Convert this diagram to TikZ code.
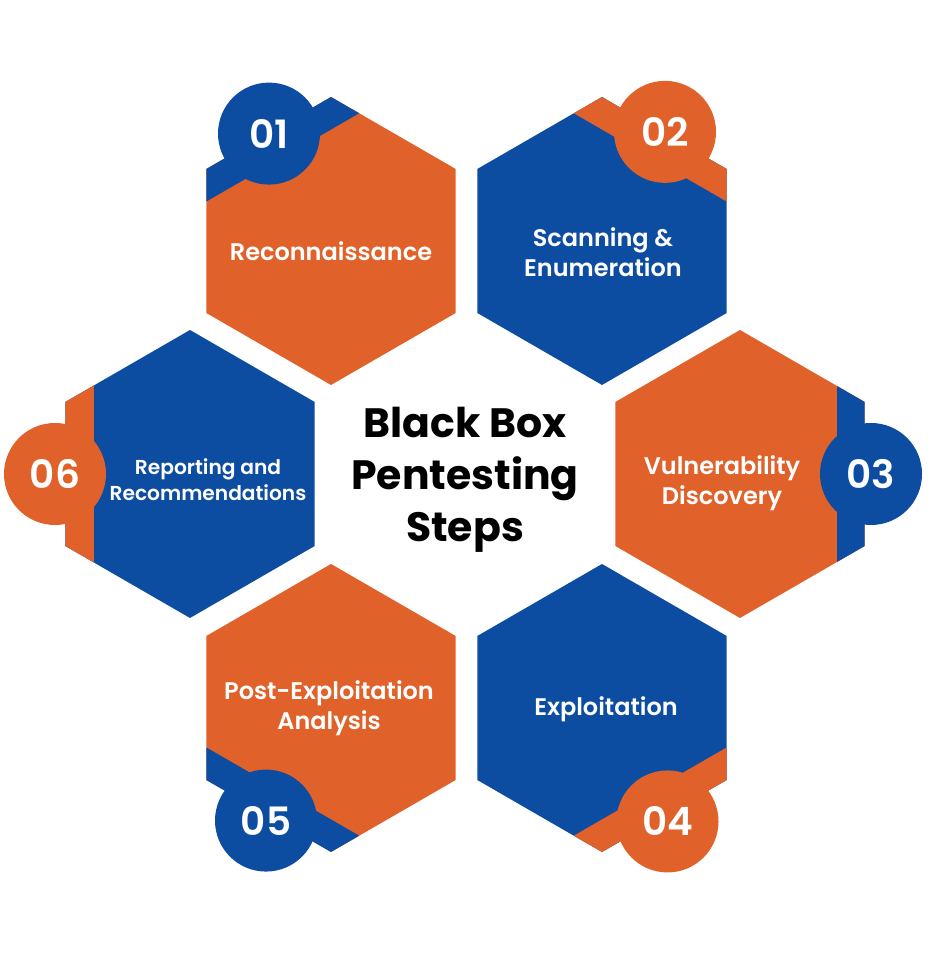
\documentclass[tikz,border=0pt]{standalone}
\usepackage{fontspec}
\setmainfont{Poppins}
\newfontfamily\medfont{Poppins}[UprightFont={* Medium}, BoldFont={* SemiBold}]
\usepackage{tikz}
\usetikzlibrary{calc}

\definecolor{stepblue}{HTML}{0D4DA1}
\definecolor{steporange}{HTML}{E0622A}

\tikzset{
  numdisc/.style={circle, minimum size=51pt, inner sep=0pt, text=white, font=\medfont\bfseries\fontsize{19.5}{20}\selectfont},
  steplabel/.style={text=white, align=center, font=\medfont\bfseries\fontsize{12}{15}\selectfont},
  titletext/.style={align=center, text=black, font=\bfseries\fontsize{20.5}{26}\selectfont},
}

% hexagon with a coloured band on one side and a numbered disc on it
\newcommand{\hexstep}[7]{%
  \begin{scope}[shift={#1}, rotate=#2]
    \fill[#4] (30:144) \foreach \a in {90,150,...,330} {-- (\a:144)} -- cycle;
    \clip (30:144) \foreach \a in {90,150,...,330} {-- (\a:144)} -- cycle;
    \fill[#5] (96.5,-150) rectangle (150,150);
  \end{scope}
  \node[numdisc, fill=#5] (#7) at ($#1+(#2:#3)$) {#6};
}

\begin{document}
\begin{tikzpicture}[x=0.5pt, y=0.5pt]
  \useasboundingbox (0,0) rectangle (928,956);

  \hexstep{(331,715)}{120}{124}{steporange}{stepblue}{01}{n01}
  \hexstep{(602,715)}{60}{126}{stepblue}{steporange}{02}{n02}
  \hexstep{(740,482)}{0}{131}{steporange}{stepblue}{03}{n03}
  \hexstep{(602,248)}{-60}{131}{stepblue}{steporange}{04}{n04}
  \hexstep{(331,248)}{-120}{130}{steporange}{stepblue}{05}{n05}
  \hexstep{(190,482)}{180}{135}{stepblue}{steporange}{06}{n06}

  \node[steplabel] (recon) at (331,705) {Reconnaissance};
  \node[steplabel] (scan) at (603,704) {Scanning \&\\Enumeration};
  \node[steplabel] (vuln) at (722,473) {Vulnerability\\Discovery};
  \node[steplabel] (exploit) at (606,247) {Exploitation};
  \node[steplabel] (post) at (329,248) {Post-Exploitation\\Analysis};
  \node[steplabel, font=\medfont\bfseries\fontsize{10.1}{13}\selectfont] (report) at (208,476) {Reporting and\\Recommendations};

  \node[titletext] (title) at (465,476) {Black Box\\Pentesting\\Steps};
\end{tikzpicture}
\end{document}
